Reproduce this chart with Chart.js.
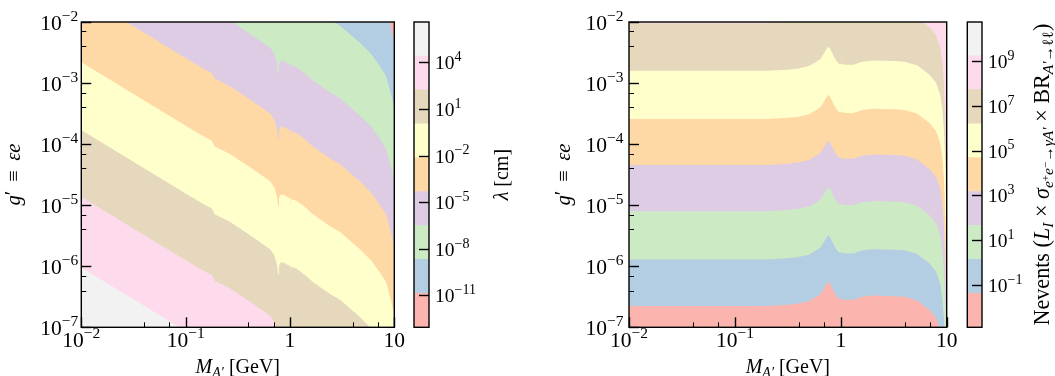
<!DOCTYPE html>
<html>
<head>
<meta charset="utf-8">
<script src="https://cdn.jsdelivr.net/npm/chart.js@4.4.1/dist/chart.umd.min.js"></script>
<style>
  html, body { margin: 0; padding: 0; background: #fff; }
  #wrap { position: relative; width: 1055px; height: 376px; overflow: hidden; }
  #wrap canvas { position: absolute; left: 0; top: 0; }
</style>
</head>
<body>
<div id="wrap">
  <canvas id="lambdaPlot" width="1055" height="376"></canvas>
  <canvas id="lambdaBar" width="1055" height="376"></canvas>
  <canvas id="nevPlot" width="1055" height="376"></canvas>
  <canvas id="nevBar" width="1055" height="376"></canvas>
</div>
<script>
// Pastel1, lowest level first
const levelColors = ['#fbb4ae', '#b3cde3', '#ccebc5', '#decbe4', '#fed9a6', '#ffffcc', '#e5d8bd', '#fddaec', '#f2f2f2'];

// axis ticks
const xTicks = [0.01, 0.1, 1, 10];
const xTickLabels = ['10^−2', '10^−1', '1', '10'];
const yTicks = [1e-7, 1e-6, 1e-5, 1e-4, 1e-3, 1e-2];
const yTickLabels = ['10^−7', '10^−6', '10^−5', '10^−4', '10^−3', '10^−2'];

// left panel: decay length lambda [cm]
// contour edges, as decades of g' relative to the edge's value at M = 0.01 GeV
const lamMass = [0.01, 0.0316, 0.1, 0.158, 0.178, 0.19, 0.251, 0.27, 0.398, 0.646, 0.708, 0.75, 0.771, 0.785,
  0.813, 0.871, 0.933, 1.013, 1.02, 1.027, 1.16, 1.41, 1.66, 2.4, 3.02, 4.68, 6.03, 7.24, 8.32, 8.71, 9.46, 10];
const lamShape = [0, -0.52, -1.04, -1.24, -1.28, -1.38, -1.48, -1.51, -1.7, -1.95, -2.05, -2.2, -2.36, -2.22,
  -2.17, -2.17, -2.2, -2.23, -2.38, -2.24, -2.27, -2.38, -2.49, -2.68, -2.78, -3.06, -3.25, -3.44, -3.6, -3.72, -3.95, -4.15];
// log10 g' at M = 0.01 for each level edge, large lambda -> small lambda
const lamEdgeAtLeft = [-6.02, -4.86, -3.77, -2.66, -1.55, -0.47, 0.72, 1.8];
// colour bar levels, log10(lambda / cm)
const lamLevels = [-13.06, -10.88, -8.69, -6.51, -4.32, -2.14, 0.04, 2.23, 4.41, 6.60];
const lamBarTicks = [1e-11, 1e-8, 1e-5, 1e-2, 1e1, 1e4];
const lamBarLabels = ['10^−11', '10^−8', '10^−5', '10^−2', '10^1', '10^4'];

// right panel: number of events
const nevMass = [0.01, 0.2, 0.316, 0.398, 0.5, 0.589, 0.646, 0.684, 0.724, 0.762, 0.794, 0.832, 0.871, 0.912,
  0.955, 1.0, 1.013, 1.02, 1.027, 1.12, 1.32, 1.58, 2.0, 3.16, 3.98, 5.25, 6.92, 7.94, 8.71, 9.12, 9.44, 9.77, 10];
const nevShape = [0, 0, 0.02, 0.04, 0.08, 0.15, 0.2, 0.27, 0.34, 0.4, 0.36, 0.29, 0.22, 0.16,
  0.12, 0.11, 0.11, 0.26, 0.11, 0.1, 0.1, 0.15, 0.17, 0.16, 0.15, 0.09, -0.07, -0.2, -0.4, -0.65, -1.0, -1.7, -3.0];
const nevEdgeAtLeft = [-6.65, -5.89, -5.10, -4.34, -3.59, -2.80, -2.02];
const nevLevels = [-2.88, -1.36, 0.15, 1.66, 3.18, 4.69, 6.20, 7.72, 9.23, 10.74];
const nevBarTicks = [1e-1, 1e1, 1e3, 1e5, 1e7, 1e9];
const nevBarLabels = ['10^−1', '10^1', '10^3', '10^5', '10^7', '10^9'];

const FONT = "'Liberation Serif', 'DejaVu Serif', serif";
const W = 1055, H = 376;

function richWidth(ctx, segs, size) {
  let w = 0;
  segs.forEach(sg => {
    ctx.font = (sg.i ? 'italic ' : '') + (size * (sg.s || 1)).toFixed(2) + 'px ' + FONT;
    w += ctx.measureText(sg.t).width;
  });
  return w;
}

function drawRich(ctx, segs, x, y, size, align, angle) {
  ctx.save();
  ctx.translate(x, y);
  if (angle) ctx.rotate(angle);
  ctx.textBaseline = 'alphabetic';
  ctx.textAlign = 'left';
  ctx.fillStyle = '#000';
  const w = richWidth(ctx, segs, size);
  let cx = align === 'center' ? -w / 2 : (align === 'right' ? -w : 0);
  segs.forEach(sg => {
    ctx.font = (sg.i ? 'italic ' : '') + (size * (sg.s || 1)).toFixed(2) + 'px ' + FONT;
    ctx.fillText(sg.t, cx, (sg.dy || 0) * size);
    cx += ctx.measureText(sg.t).width;
  });
  ctx.restore();
}

// '10^−2' -> base + raised exponent
function powSegs(label) {
  const p = label.split('^');
  if (p.length === 1) return [{ t: p[0] }];
  return [{ t: p[0] }, { t: p[1], s: 0.72, dy: -0.42 }];
}

function fixedTicks(major, withMinor) {
  return scale => {
    const out = [];
    major.forEach((v, i) => {
      out.push({ value: v, major: true });
      if (withMinor && i < major.length - 1) {
        for (let k = 2; k <= 9; k++) out.push({ value: v * k, major: false });
      }
    });
    scale.ticks = out;
  };
}

const massLabel = [{ t: 'M', i: 1 }, { t: 'A′', i: 1, s: 0.7, dy: 0.22 }, { t: ' [GeV]' }];
const gLabel = [{ t: 'g', i: 1 }, { t: '′', dy: -0.05 }, { t: ' \u2009≡\u2009 ' }, { t: 'εe', i: 1 }];

function panelDecor(cfg) {
  return {
    id: 'panelDecor',
    afterDraw(chart) {
      const ctx = chart.ctx, a = chart.chartArea;
      const xs = chart.scales.x, ys = chart.scales.y;
      ctx.save();
      ctx.strokeStyle = '#000';
      xs.ticks.forEach(t => {
        const px = Math.round(xs.getPixelForValue(t.value)) + 0.5;
        ctx.lineWidth = t.major ? 1.4 : 1;
        ctx.beginPath();
        ctx.moveTo(px, a.bottom);
        ctx.lineTo(px, a.bottom - (t.major ? 10 : 5));
        ctx.stroke();
      });
      ys.ticks.forEach(t => {
        const py = Math.round(ys.getPixelForValue(t.value)) + 0.5;
        ctx.lineWidth = t.major ? 1.4 : 1;
        ctx.beginPath();
        ctx.moveTo(a.left, py);
        ctx.lineTo(a.left + (t.major ? 10 : 5), py);
        ctx.stroke();
      });
      ctx.lineWidth = 1.4;
      ctx.strokeRect(a.left, a.top, a.right - a.left, a.bottom - a.top);
      ctx.restore();

      xTicks.forEach((v, i) => {
        drawRich(ctx, powSegs(xTickLabels[i]), xs.getPixelForValue(v), a.bottom + 20, 21.5, 'center');
      });
      yTicks.forEach((v, i) => {
        drawRich(ctx, powSegs(yTickLabels[i]), a.left - cfg.yGap, ys.getPixelForValue(v) + 8, 21.5, 'right');
      });
      drawRich(ctx, massLabel, (a.left + a.right) / 2, 372.5, 20, 'center');
      drawRich(ctx, gLabel, cfg.yLabelX, (a.top + a.bottom) / 2, 20.5, 'center', -Math.PI / 2);
    }
  };
}

function barDecor(cfg) {
  return {
    id: 'barDecor',
    afterDraw(chart) {
      const ctx = chart.ctx, a = chart.chartArea, ys = chart.scales.y;
      ctx.save();
      ctx.strokeStyle = '#000';
      ys.ticks.forEach(t => {
        const py = Math.round(ys.getPixelForValue(t.value)) + 0.5;
        ctx.lineWidth = 1.4;
        ctx.beginPath();
        ctx.moveTo(a.right, py);
        ctx.lineTo(a.right - 10, py);
        ctx.stroke();
      });
      ctx.lineWidth = 1.4;
      ctx.strokeRect(a.left, a.top, a.right - a.left, a.bottom - a.top);
      ctx.restore();
      cfg.ticks.forEach((v, i) => {
        drawRich(ctx, powSegs(cfg.labels[i]), a.right + 6, ys.getPixelForValue(v) + 7, 19.5, 'left');
      });
      let size = 20;
      if (cfg.titleLength) size = size * cfg.titleLength / richWidth(ctx, cfg.title, size);
      drawRich(ctx, cfg.title, cfg.titleX, (a.top + a.bottom) / 2, size, 'center', -Math.PI / 2);
    }
  };
}

function contourChart(id, area, mass, shape, edges, baseColor, edgeColors, decor) {
  const datasets = [{
    data: mass.map(m => ({ x: m, y: 1e-7 })),
    backgroundColor: baseColor,
    fill: 'end',
    order: 100
  }];
  edges.forEach((g0, k) => {
    datasets.push({
      data: mass.map((m, i) => ({ x: m, y: Math.pow(10, g0 + shape[i]) })),
      backgroundColor: edgeColors[k],
      fill: 'end',
      order: 50 - k
    });
  });
  datasets.forEach(d => {
    d.borderWidth = 0;
    d.borderColor = 'rgba(0,0,0,0)';
    d.pointRadius = 0;
    d.tension = 0;
  });
  return new Chart(document.getElementById(id), {
    type: 'line',
    data: { datasets },
    options: {
      responsive: false,
      animation: false,
      devicePixelRatio: 1,
      layout: { padding: { left: area.left, right: W - area.right, top: area.top, bottom: H - area.bottom } },
      plugins: { legend: { display: false }, tooltip: { enabled: false } },
      scales: {
        x: { type: 'logarithmic', min: 0.01, max: 10, display: false, afterBuildTicks: fixedTicks(xTicks, true) },
        y: { type: 'logarithmic', min: 1e-7, max: 1e-2, display: false, afterBuildTicks: fixedTicks(yTicks, true) }
      }
    },
    plugins: [decor]
  });
}

function colorBar(id, area, levels, barTicks, decor) {
  const datasets = [];
  for (let i = 0; i < levels.length - 1; i++) {
    datasets.push({
      data: [[Math.pow(10, levels[i]), Math.pow(10, levels[i + 1])]],
      backgroundColor: levelColors[i],
      borderWidth: 0,
      barPercentage: 1,
      categoryPercentage: 1,
      grouped: false
    });
  }
  return new Chart(document.getElementById(id), {
    type: 'bar',
    data: { labels: [''], datasets },
    options: {
      responsive: false,
      animation: false,
      devicePixelRatio: 1,
      layout: { padding: { left: area.left, right: W - area.right, top: area.top, bottom: H - area.bottom } },
      plugins: { legend: { display: false }, tooltip: { enabled: false } },
      scales: {
        x: { display: false },
        y: {
          type: 'logarithmic', display: false,
          min: Math.pow(10, levels[0]), max: Math.pow(10, levels[levels.length - 1]),
          afterBuildTicks: fixedTicks(barTicks, false)
        }
      }
    },
    plugins: [decor]
  });
}

// left: bands above each edge go from pink (long lambda) down to red
const lamEdgeColors = [7, 6, 5, 4, 3, 2, 1, 0].map(i => levelColors[i]);
contourChart('lambdaPlot', { left: 81.3, right: 394.3, top: 22, bottom: 327.3 },
  lamMass, lamShape, lamEdgeAtLeft, levelColors[8], lamEdgeColors, panelDecor({ yGap: 3, yLabelX: 20 }));

colorBar('lambdaBar', { left: 414, right: 429, top: 22, bottom: 327.3 }, lamLevels, lamBarTicks, barDecor({
  ticks: lamBarTicks, labels: lamBarLabels, titleX: 507.5,
  title: [{ t: 'λ', i: 1 }, { t: ' [cm]' }]
}));

// right: bands above each edge go from blue up to pink
const nevEdgeColors = [1, 2, 3, 4, 5, 6, 7].map(i => levelColors[i]);
contourChart('nevPlot', { left: 629, right: 946.7, top: 22, bottom: 327.3 },
  nevMass, nevShape, nevEdgeAtLeft, levelColors[0], nevEdgeColors, panelDecor({ yGap: 5.5, yLabelX: 570 }));

colorBar('nevBar', { left: 967.3, right: 982, top: 22, bottom: 327.3 }, nevLevels, nevBarTicks, barDecor({
  ticks: nevBarTicks, labels: nevBarLabels, titleX: 1049, titleLength: 302,
  title: [
    { t: 'Nevents (' }, { t: 'L', i: 1 }, { t: 'I', i: 1, s: 0.7, dy: 0.2 }, { t: ' × ' },
    { t: 'σ', i: 1 }, { t: 'e', i: 1, s: 0.7, dy: 0.2 }, { t: '+', s: 0.5, dy: -0.02 },
    { t: 'e', i: 1, s: 0.7, dy: 0.2 }, { t: '−', s: 0.5, dy: -0.02 }, { t: '→', s: 0.7, dy: 0.2 },
    { t: 'γA′', i: 1, s: 0.7, dy: 0.2 }, { t: ' × BR' }, { t: 'A′', i: 1, s: 0.7, dy: 0.2 },
    { t: '→ℓℓ', s: 0.7, dy: 0.2 }, { t: ')' }
  ]
}));
</script>
</body>
</html>
